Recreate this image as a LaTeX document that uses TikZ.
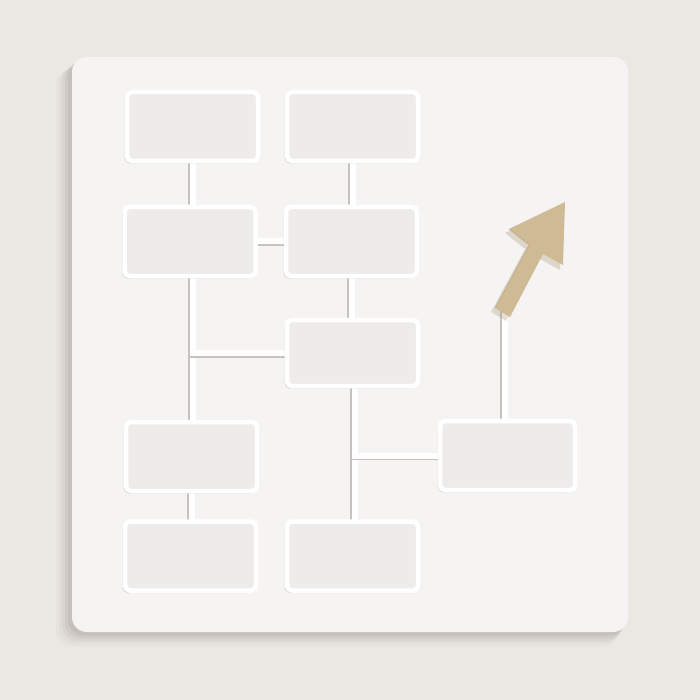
\documentclass[tikz,border=0pt]{standalone}
\usetikzlibrary{shadows,calc}
\definecolor{bgc}{HTML}{EBE8E4}
\definecolor{boardc}{HTML}{F5F4F2}
\definecolor{boardsh}{HTML}{9C968F}
\definecolor{boxin}{HTML}{EDECEA}
\definecolor{rimsh}{HTML}{C6C3BF}
\definecolor{tan}{HTML}{CFBA96}
\definecolor{tandark}{HTML}{A8936F}
\pgfdeclarelayer{bglayer}
\pgfdeclarelayer{linklayer}
\pgfsetlayers{bglayer,linklayer,main}
\tikzset{
  box/.style={rectangle, rounded corners=5pt, draw=white, line width=4.5pt, fill=boxin,
    minimum width=131pt, minimum height=69pt, inner sep=0pt,
    drop shadow={shadow xshift=-2.5pt, shadow yshift=-2.5pt, opacity=0.45, fill=rimsh}},
  link/.style={draw=white, line width=6pt, line cap=rect,
    preaction={draw=rimsh, line width=7pt, line cap=rect, transform canvas={shift={(-1.2pt,-1pt)}}}}
}
\begin{document}
\begin{tikzpicture}[x=1pt,y=-1pt]
\useasboundingbox (0,0) rectangle (700,700);
\begin{pgfonlayer}{bglayer}
\fill[bgc] (0,0) rectangle (700,700);
\foreach \d/\o in {16/0.06,13/0.08,10/0.1,7/0.14,4/0.2}{
  \fill[boardsh, opacity=\o, rounded corners=16pt] (72-\d,57+\d*0.8) rectangle (628-\d*0.6,632+\d*0.9);
}
\fill[boardc, rounded corners=15pt] (72,57) rectangle (628,632);
\end{pgfonlayer}
\coordinate (ab) at (505,312);
\coordinate (cx) at (193,0);
\coordinate (ex) at (355,0);
\node[box] (A) at (192.5,126.5) {};
\node[box] (B) at (352.5,126.5) {};
\node[box] (C) at (190,241.5) {};
\node[box] (D) at (351.5,241.5) {};
\node[box, minimum height=66pt] (E) at (352.5,353) {};
\node[box] (F) at (191.5,456.5) {};
\node[box, minimum width=135pt] (G) at (507.5,455.5) {};
\node[box] (H) at (190.5,556) {};
\node[box] (I) at (352.5,556) {};
\begin{pgfonlayer}{linklayer}
\draw[link] (A.south) -- (A.south |- C.north);
\draw[link] (B.south) -- (B.south |- D.north);
\draw[link] (C.east) -- (D.west);
\draw[link] (D.south) -- (D.south |- E.north);
\draw[link] (cx |- C.south) -- (cx |- F.north);
\draw[link] (cx |- E.west) -- (E.west);
\draw[link] (ex |- E.south) -- (ex |- I.north);
\draw[link] (ex |- G.west) -- (G.west);
\draw[link] (F.south) -- (F.south |- H.north);
\draw[link] (ab |- G.north) -- (ab);
\end{pgfonlayer}
% arrow
\fill[tandark, opacity=0.3] (562,206) -- (505,233) -- (525,249) -- (491,312) -- (506,321) -- (538,258) -- (560,270) -- cycle;
\fill[tan] (565,202) -- (509,229) -- (529,245) -- (495,308) -- (510,317) -- (543,254) -- (563,265) -- cycle;
\draw[tandark, line width=0.6pt, opacity=0.5] (509,229) -- (529,245) -- (495,308);
\end{tikzpicture}
\end{document}
